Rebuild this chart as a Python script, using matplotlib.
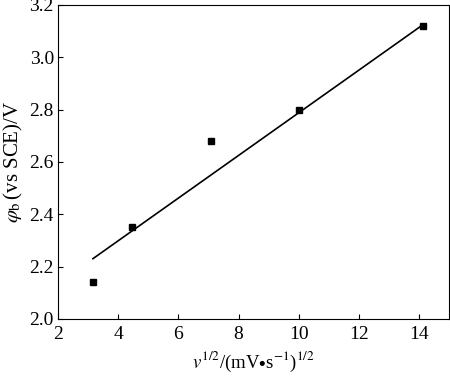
import matplotlib
matplotlib.use('Agg')
import matplotlib.pyplot as plt

# scan rate square root vs peak potential
x_vals = [3.16, 4.47, 7.07, 10.0, 14.14]
y_vals = [2.14, 2.35, 2.68, 2.80, 3.12]

# fitted line end points
fit_x = [3.16, 14.14]
fit_y = [2.23, 3.125]

plt.rcParams['font.family'] = ['Liberation Serif', 'DejaVu Serif']
plt.rcParams['mathtext.fontset'] = 'stix'

fig = plt.figure(figsize=(4.5, 3.76), dpi=100)
ax = fig.add_axes([0.129, 0.152, 0.869, 0.835])

ax.plot(fit_x, fit_y, color='black', linewidth=1.2)
ax.plot(x_vals, y_vals, linestyle='none', marker='s', markersize=4.5, color='black')

ax.set_xlim(2, 15)
ax.set_ylim(2.0, 3.2)
ax.set_xticks(range(2, 15, 2))
ax.set_yticks([2.0, 2.2, 2.4, 2.6, 2.8, 3.0, 3.2])
ax.set_yticklabels(['2.0', '2.2', '2.4', '2.6', '2.8', '3.0', '3.2'])

ax.tick_params(direction='in', length=3.6, width=0.8, labelsize=14)
ax.tick_params(axis='x', pad=5)
ax.tick_params(axis='y', pad=3)
ax.tick_params(top=False, right=False)
for s in ax.spines.values():
    s.set_linewidth(0.8)

ax.set_xlabel(r'$v^{1/2}$/(mV$\bullet$s$^{-1}$)$^{1/2}$', fontsize=13.5, labelpad=5)
ax.set_ylabel(r'$\varphi_\mathrm{b}\,$(vs SCE)/V', fontsize=15, labelpad=3)

plt.savefig('out.png', dpi=100)
